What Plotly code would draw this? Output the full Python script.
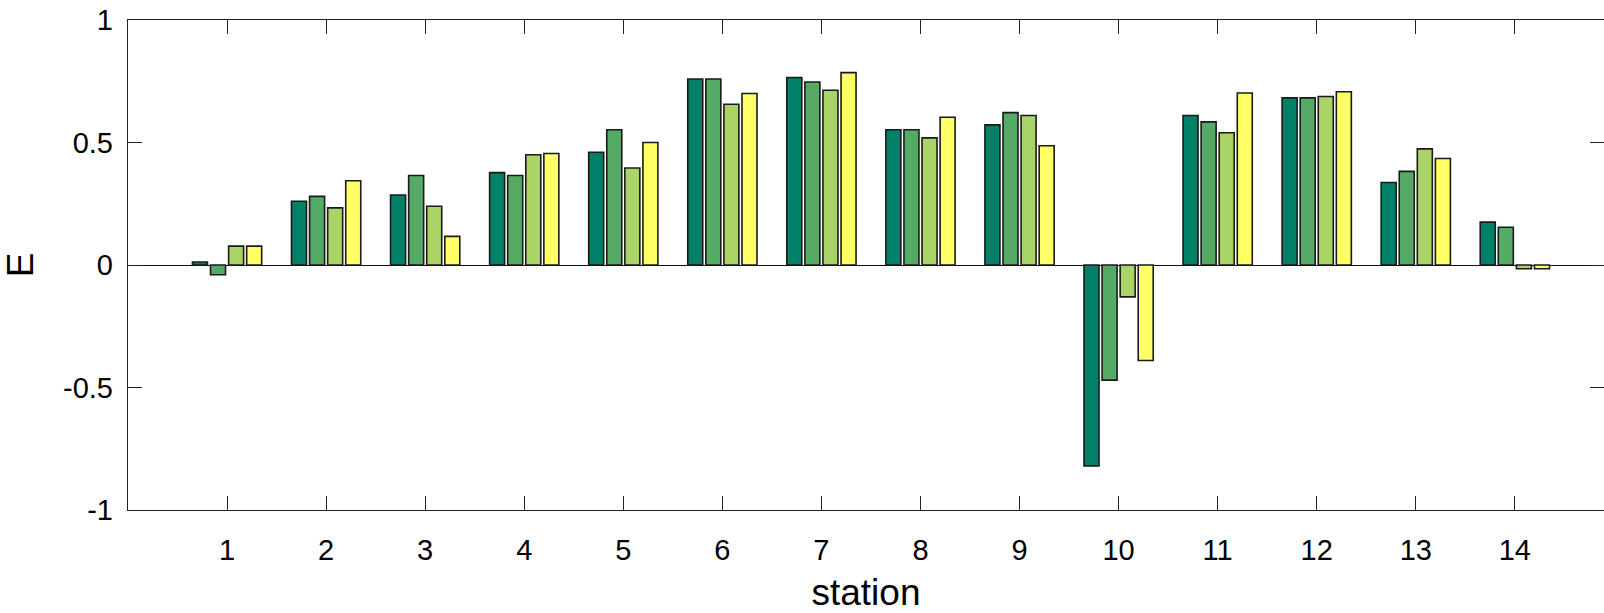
import plotly.graph_objects as go

stations = list(range(1, 15))
tick_labels = [str(s) for s in stations]
y_ticks = [-1, -0.5, 0, 0.5, 1]
y_tick_labels = ["-1", "-0.5", "0", "0.5", "1"]

series_1 = [0.012, 0.26, 0.286, 0.377, 0.46, 0.759, 0.765, 0.552, 0.572, -0.82, 0.61, 0.682, 0.337, 0.175]
series_2 = [-0.04, 0.28, 0.365, 0.365, 0.552, 0.759, 0.747, 0.552, 0.622, -0.47, 0.584, 0.682, 0.382, 0.154]
series_3 = [0.077, 0.233, 0.24, 0.45, 0.396, 0.656, 0.713, 0.519, 0.61, -0.13, 0.54, 0.688, 0.474, -0.015]
series_4 = [0.077, 0.344, 0.117, 0.455, 0.5, 0.70, 0.785, 0.603, 0.487, -0.39, 0.702, 0.707, 0.435, -0.015]

colors = ["#008066", "#55AA66", "#AAD466", "#FFFF66"]

fig = go.Figure()
for vals, col in zip([series_1, series_2, series_3, series_4], colors):
    fig.add_trace(go.Bar(
        x=stations, y=vals,
        marker=dict(color=col, line=dict(color="#1a1a1a", width=1.6)),
        showlegend=False,
    ))

axis_common = dict(
    showgrid=False,
    showline=True, linecolor="#222", linewidth=1.4,
    mirror="ticks",
    ticks="inside", ticklen=14, tickwidth=1.4, tickcolor="#222",
    tickfont=dict(family="Liberation Sans, Arial, sans-serif", size=29, color="#000"),
)

fig.update_layout(
    width=1604, height=613,
    margin=dict(l=128, r=0, t=20, b=103),
    paper_bgcolor="white", plot_bgcolor="white",
    barmode="group", bargap=0.27, bargroupgap=0.17,
    xaxis=dict(
        **axis_common,
        range=[0, 14.9],
        tickmode="array", tickvals=stations, ticktext=tick_labels,
        ticklabelstandoff=14,
        zeroline=False,
        title=dict(text="station", font=dict(family="Liberation Sans, Arial, sans-serif", size=37, color="#000"), standoff=16),
    ),
    yaxis=dict(
        **axis_common,
        range=[-1, 1],
        tickmode="array", tickvals=y_ticks, ticktext=y_tick_labels,
        ticklabelstandoff=8,
        zeroline=True, zerolinecolor="#111", zerolinewidth=1.4,
        title=dict(text="E", font=dict(family="Liberation Sans, Arial, sans-serif", size=37, color="#000"), standoff=18),
    ),
)

fig.write_html("out.html")
